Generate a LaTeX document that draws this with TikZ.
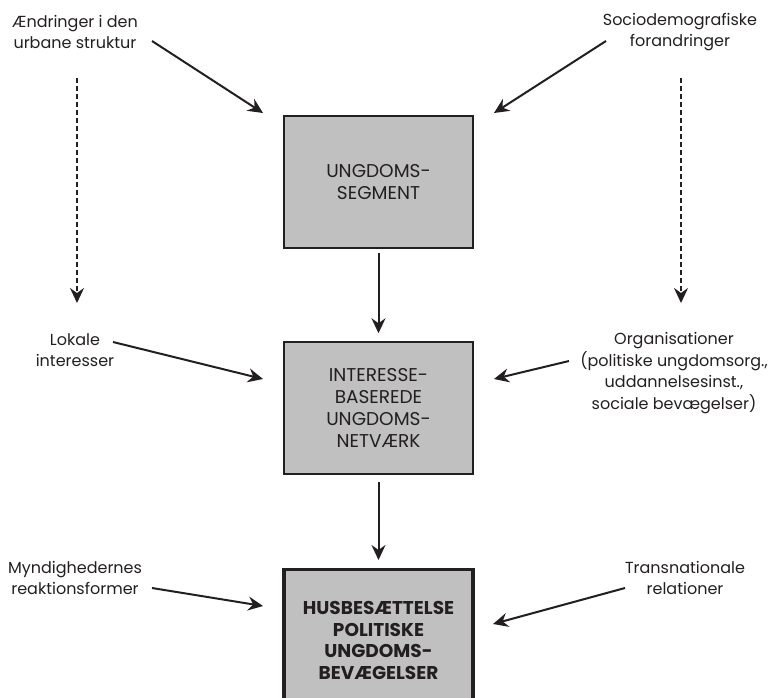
\documentclass[tikz,border=0pt]{standalone}
\usepackage{fontspec}
\setmainfont{Poppins}
\usetikzlibrary{arrows.meta}
\definecolor{boxgray}{RGB}{192,192,192}
\definecolor{ink}{RGB}{35,31,32}
\begin{document}
\begin{tikzpicture}[x=1pt, y=-1pt,
  every node/.style={font=\fontsize{16}{21.5}\selectfont, text=ink, align=center},
  box/.style={draw=ink, line width=1.5pt, fill=boxgray, minimum width=189pt, minimum height=132pt, inner sep=0pt, font=\fontsize{18.5}{21.7}\selectfont},
  mainbox/.style={box, line width=3.2pt, font=\fontsize{18.5}{21.7}\selectfont\bfseries},
  arr/.style={line width=2pt, draw=ink, -{Stealth[length=15pt,width=14pt,inset=5pt]}},
  dasharr/.style={arr, line width=1.6pt, dash pattern=on 5pt off 3pt}]

\useasboundingbox (0,0) rectangle (773,698);

% boxes
\node[box] (seg) at (378.5,182) {UNGDOMS-\\SEGMENT};
\node[box] (net) at (378.5,408) {INTERESSE-\\BASEREDE\\UNGDOMS-\\NETVÆRK};
\node[mainbox, minimum height=142pt, anchor=north] (hus) at (378.5,568) {HUSBESÆTTELSE\\POLITISKE\\UNGDOMS-\\BEVÆGELSER};

% factors
\node (aendr) at (75,32) {Ændringer i den\\urbane struktur};
\node (socio) at (680,32) {Sociodemografiske\\forandringer};
\node (lokale) at (75,350) {Lokale\\interesser};
\node (org) at (674,373) {Organisationer\\(politiske ungdomsorg.,\\uddannelsesinst.,\\sociale bevægelser)};
\node (mynd) at (75,578) {Myndighedernes\\reaktionsformer};
\node (trans) at (685,578) {Transnationale\\relationer};

% arrow ends
\coordinate (aendr-out) at (152,41);
\coordinate (seg-inl) at (263,113);
\coordinate (socio-out) at (606,41);
\coordinate (seg-inr) at (494,113);
\coordinate (aendr-dn) at (77,78);
\coordinate (lokale-up) at (77,303);
\coordinate (socio-dn) at (681,78);
\coordinate (org-up) at (681,303);
\coordinate (lokale-out) at (113,342);
\coordinate (net-inl) at (263,379);
\coordinate (org-out) at (569,361);
\coordinate (net-inr) at (494,379);
\coordinate (mynd-out) at (152,588);
\coordinate (hus-inl) at (263,606);
\coordinate (trans-out) at (625,588);
\coordinate (hus-inr) at (493,624);

\draw[arr] (aendr-out) -- (seg-inl);
\draw[arr] (socio-out) -- (seg-inr);
\draw[dasharr] (aendr-dn) -- (lokale-up);
\draw[dasharr] (socio-dn) -- (org-up);
\draw[arr, shorten <=4pt, shorten >=8pt] (seg) -- (net);
\draw[arr] (lokale-out) -- (net-inl);
\draw[arr] (org-out) -- (net-inr);
\draw[arr, shorten <=7pt, shorten >=8pt] (net) -- (hus);
\draw[arr] (mynd-out) -- (hus-inl);
\draw[arr] (trans-out) -- (hus-inr);

\end{tikzpicture}
\end{document}
